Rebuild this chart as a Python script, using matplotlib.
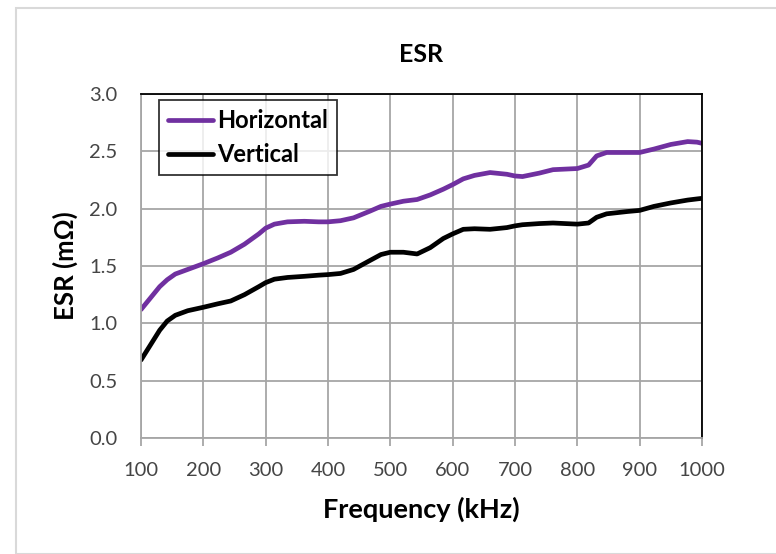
import matplotlib
matplotlib.use("Agg")
import matplotlib.pyplot as plt
from matplotlib.patches import Rectangle

plt.rcParams['font.family'] = ['Lato', 'DejaVu Sans']

# frequency points (kHz)
freq = [100, 115, 130, 142, 155, 175, 200, 223, 244, 266, 289, 300, 314, 335,
        362, 385, 400, 420, 441, 468, 485, 500, 521, 543, 564, 585, 600, 617,
        635, 660, 687, 700, 712, 739, 761, 800, 818, 831, 847, 880, 900, 923,
        950, 977, 992, 1000]

horizontal = [1.12, 1.22, 1.32, 1.38, 1.43, 1.47, 1.52, 1.57, 1.62, 1.69, 1.78,
              1.83, 1.865, 1.885, 1.89, 1.885, 1.885, 1.895, 1.92, 1.98, 2.02,
              2.04, 2.065, 2.08, 2.12, 2.17, 2.21, 2.26, 2.29, 2.315, 2.30,
              2.285, 2.28, 2.31, 2.34, 2.35, 2.38, 2.46, 2.49, 2.49, 2.49, 2.52,
              2.56, 2.585, 2.58, 2.57]

vertical = [0.68, 0.81, 0.94, 1.02, 1.07, 1.11, 1.14, 1.17, 1.195, 1.25, 1.32,
            1.355, 1.385, 1.40, 1.41, 1.42, 1.425, 1.435, 1.47, 1.55, 1.60,
            1.62, 1.62, 1.605, 1.66, 1.74, 1.78, 1.82, 1.825, 1.82, 1.835,
            1.85, 1.86, 1.87, 1.875, 1.865, 1.875, 1.925, 1.955, 1.975, 1.985,
            2.02, 2.05, 2.075, 2.085, 2.09]

xticks = list(range(100, 1001, 100))
yticks = [0.0, 0.5, 1.0, 1.5, 2.0, 2.5, 3.0]

fig = plt.figure(figsize=(7.76, 5.54), dpi=100)
fig.patches.append(Rectangle((16 / 776, 0), 1, 1 - 8 / 554, transform=fig.transFigure,
                             fill=False, edgecolor='#d9d9d9', linewidth=1.5))

ax = fig.add_axes([141 / 776, 1 - 438 / 554, (702 - 141) / 776, (438 - 94) / 554])

ax.plot(freq, horizontal, color='#7030a0', linewidth=3.4, label='Horizontal',
        solid_capstyle='round', solid_joinstyle='round')
ax.plot(freq, vertical, color='black', linewidth=3.4, label='Vertical',
        solid_capstyle='round', solid_joinstyle='round')

ax.set_xlim(100, 1000)
ax.set_ylim(0, 3.0)
ax.set_xticks(xticks)
ax.set_yticks(yticks)
ax.set_yticklabels([f'{v:.1f}' for v in yticks])
ax.grid(True, color='#a6a6a6', linewidth=1.3)
ax.set_axisbelow(True)

for s in ['left', 'bottom']:
    ax.spines[s].set_color('#a6a6a6')
    ax.spines[s].set_linewidth(1.3)
for s in ['top', 'right']:
    ax.spines[s].set_color('black')
    ax.spines[s].set_linewidth(1.3)

ax.tick_params(axis='x', direction='out', length=6, width=1.3, color='#a6a6a6',
               labelsize=14.5, labelcolor='#454545', pad=11)
ax.tick_params(axis='y', length=0, labelsize=14.5, labelcolor='#454545', pad=17)

ax.set_title('ESR', fontsize=18, fontweight='bold', pad=23)
ax.set_xlabel('Frequency (kHz)', fontsize=19.5, fontweight='bold', labelpad=13)
ax.set_ylabel('ESR (m\u03a9)', fontsize=18.5, fontweight='bold', labelpad=8)

leg = ax.legend(loc='upper left', bbox_to_anchor=(0.032, 0.983), fontsize=17,
                frameon=True, fancybox=False, edgecolor='black', handlelength=1.9,
                handletextpad=0.15, borderpad=0.4, labelspacing=0.45,
                borderaxespad=0)
leg.get_frame().set_linewidth(1.3)
for t in leg.get_texts():
    t.set_fontweight('bold')

fig.savefig('out.png', dpi=100)
